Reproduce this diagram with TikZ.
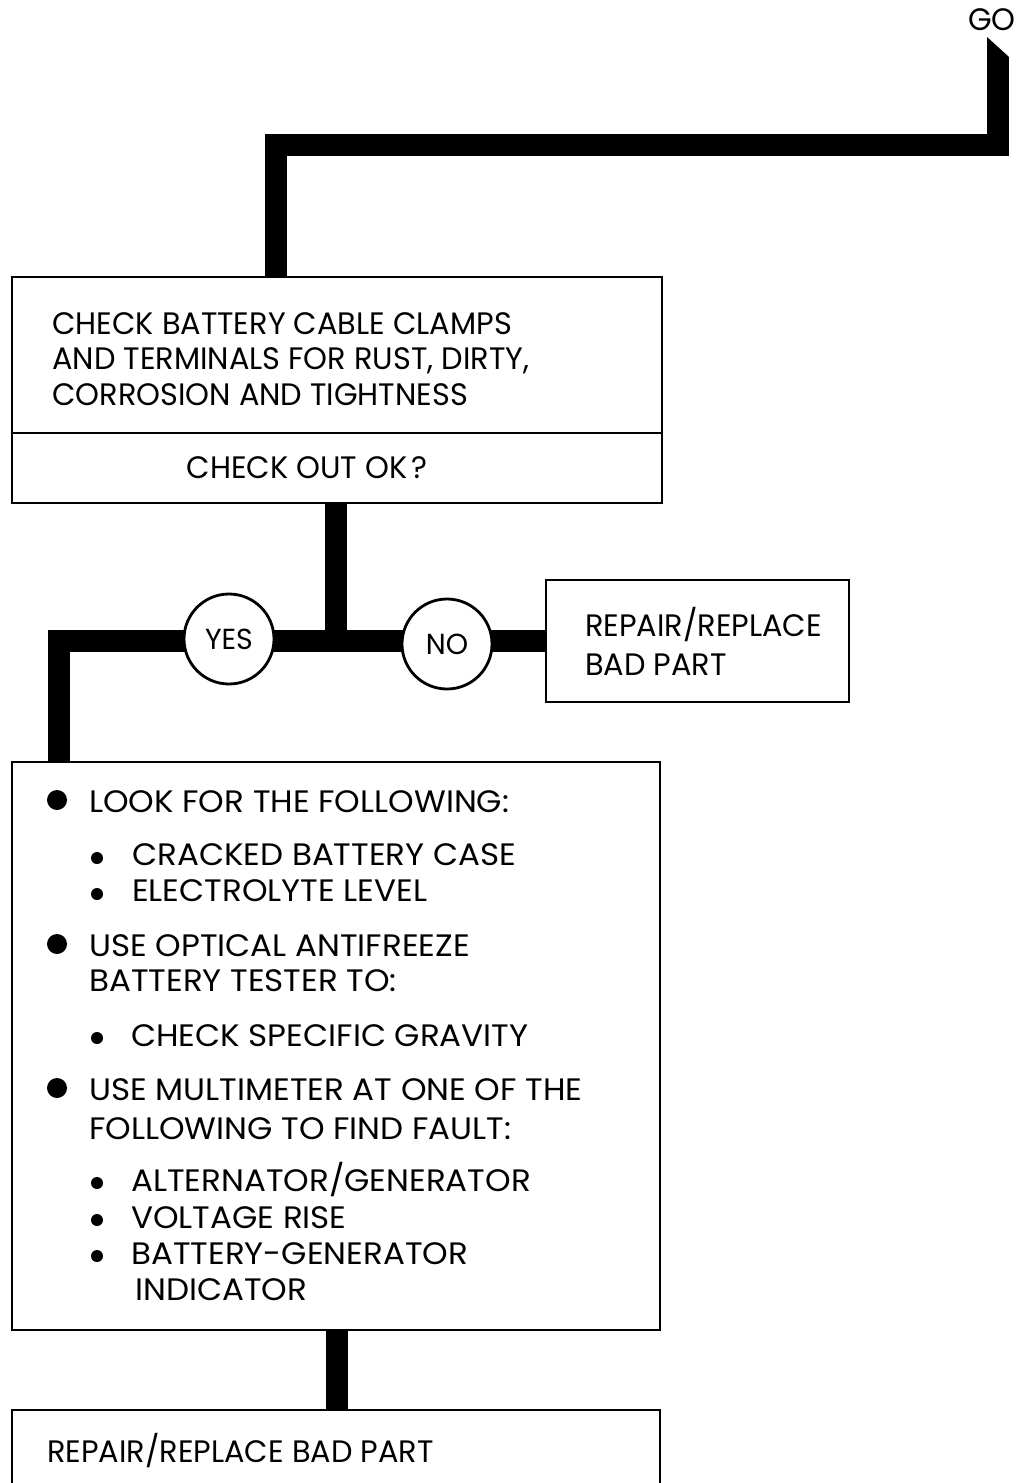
\documentclass[tikz,border=0pt]{standalone}
\usepackage{fontspec}
\newfontfamily\ff[FakeStretch=0.98]{Poppins}
\newfontfamily\ffb[FakeStretch=1.05]{Poppins}
\begin{document}
\begin{tikzpicture}[x=1pt,y=-1pt,
  box/.style={draw=black,line width=2.6pt,fill=white,rectangle,inner sep=0pt},
  conn/.style={line width=22pt,black,line cap=butt,line join=miter},
  circ/.style={draw=black,line width=2.8pt,fill=white,circle,minimum size=90pt,inner sep=0pt,font=\ff\fontsize{29}{29}\selectfont},
  txt/.style={anchor=base west,inner sep=0pt,font=\ff\fontsize{31}{36}\selectfont},
  txtb/.style={anchor=base west,inner sep=0pt,font=\ffb\fontsize{31}{36}\selectfont},
  bigdot/.style={circle,fill=black,inner sep=0pt,minimum size=20pt},
  smalldot/.style={circle,fill=black,inner sep=0pt,minimum size=12pt}]
\useasboundingbox (0,0) rectangle (1027,1483);
\fill[white] (0,0) rectangle (1027,1483);

% boxes
\node[box,minimum width=650pt,minimum height=226pt] (top) at (337,390) {};
\coordinate (divl) at (12,433);
\coordinate (divr) at (662,433);
\draw[line width=2.6pt] (divl) -- (divr);
\node[box,minimum width=303pt,minimum height=122pt] (nobox) at (697.5,641) {};
\node[box,minimum width=648pt,minimum height=568pt] (big) at (336,1046) {};

% connectors
\coordinate (gotop) at (998,57);
\coordinate (gocorner) at (998,145);
\coordinate (topcorner) at (276,145);
\coordinate (jn) at (336,641);
\coordinate (bl) at (59,641);
\coordinate (botin) at (337,1410);
\fill[black] (987,37) -- (1009,57) -- (987,57) -- cycle;
\draw[conn] (gotop) -- (gocorner) -- (topcorner) -- (topcorner |- top.north);
\draw[conn] (jn |- top.south) -- (jn);
\draw[conn] (nobox.west) -- (bl) -- (bl |- big.north);
\draw[conn] (botin |- big.south) -- (botin);

% bottom box (cut by page edge)
\coordinate (bb1) at (12,1490);
\coordinate (bb2) at (660,1490);
\draw[line width=2.6pt] (bb1) -- (bb1 |- botin) -- (bb2 |- botin) -- (bb2);

% circles
\node[circ] (yes) at (229,639) {YES};
\node[circ] (no) at (447,644) {NO};

% texts
\node[anchor=base east,inner sep=0pt,font=\ff\fontsize{31}{31}\selectfont] (go) at (1016,30) {GO};
\node[txt] (t1) at (52,334) {CHECK BATTERY CABLE CLAMPS};
\node[txt] (t2) at (52,369) {AND TERMINALS FOR RUST, DIRTY,};
\node[txt] (t3) at (52,405) {CORROSION AND TIGHTNESS};
\node[txt,anchor=base] (t4) at (307,478) {CHECK OUT OK\kern4pt?};
\node[txt] (n1) at (585,636) {REPAIR/REPLACE};
\node[txt] (n2) at (585,675) {BAD PART};

\node[bigdot] (d1) at (57,800) {};
\node[txtb] (l1) at (89,812) {LOOK FOR THE FOLLOWING:};
\node[smalldot] (s1) at (97,858) {};
\node[txtb] (l2) at (132,865) {CRACKED BATTERY CASE};
\node[smalldot] (s2) at (97,894) {};
\node[txtb] (l3) at (132,901) {ELECTROLYTE LEVEL};
\node[bigdot] (d2) at (57,944) {};
\node[txtb] (l4) at (89,956) {USE OPTICAL ANTIFREEZE};
\node[txtb] (l5) at (89,991) {BATTERY TESTER TO:};
\node[smalldot] (s3) at (97,1038) {};
\node[txtb] (l6) at (131,1046) {CHECK SPECIFIC GRAVITY};
\node[bigdot] (d3) at (57,1088) {};
\node[txtb] (l7) at (89,1100) {USE MULTIMETER AT ONE OF THE};
\node[txtb] (l8) at (89,1139) {FOLLOWING TO FIND FAULT:};
\node[smalldot] (s4) at (97,1183) {};
\node[txtb] (l9) at (131,1191) {ALTERNATOR/GENERATOR};
\node[smalldot] (s5) at (97,1220) {};
\node[txtb] (l10) at (131,1228) {VOLTAGE RISE};
\node[smalldot] (s6) at (97,1256) {};
\node[txtb] (l11) at (131,1264) {BATTERY-GENERATOR};
\node[txtb] (l12) at (135,1300) {INDICATOR};

\node[txt] (b1) at (47,1462) {REPAIR/REPLACE BAD PART};
\end{tikzpicture}
\end{document}
